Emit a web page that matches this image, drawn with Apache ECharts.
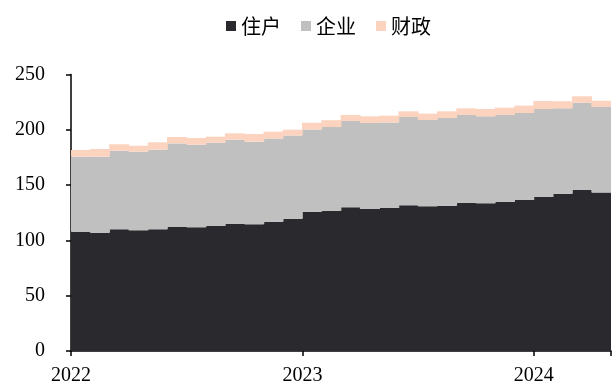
<!DOCTYPE html>
<html>
<head>
<meta charset="utf-8">
<script src="https://cdn.jsdelivr.net/npm/echarts@6/dist/echarts.min.js"></script>
<style>
  html, body { margin: 0; padding: 0; background: #fff; }
  #chart { width: 616px; height: 388px; }
</style>
</head>
<body>
<div id="chart"></div>
<script>
// 2022-01 .. 2024-04, monthly
const months = [
  '2022-01','2022-02','2022-03','2022-04','2022-05','2022-06','2022-07','2022-08','2022-09','2022-10','2022-11','2022-12',
  '2023-01','2023-02','2023-03','2023-04','2023-05','2023-06','2023-07','2023-08','2023-09','2023-10','2023-11','2023-12',
  '2024-01','2024-02','2024-03','2024-04'
];
const household = [
  107.9, 107.0, 110.0, 109.1, 110.0, 112.1, 111.8, 113.0, 114.8, 114.5, 116.9, 119.6,
  126.0, 126.7, 129.9, 128.4, 129.3, 131.7, 130.8, 131.4, 134.1, 133.5, 134.7, 136.5,
  139.2, 142.2, 145.6, 143.2
];
const enterprise = [
  67.8, 68.7, 71.1, 71.1, 72.0, 75.6, 74.7, 75.4, 76.3, 74.8, 75.2, 75.2,
  74.3, 75.8, 78.1, 77.7, 77.4, 79.9, 78.1, 79.3, 79.3, 78.7, 78.7, 78.7,
  79.6, 77.2, 78.9, 77.4
];
const fiscal = [
  6.0, 6.9, 5.8, 5.4, 6.7, 5.8, 6.1, 5.4, 5.7, 6.9, 6.2, 5.3,
  6.1, 6.2, 5.4, 6.1, 6.1, 5.1, 5.7, 6.0, 6.0, 6.6, 6.6, 6.6,
  7.2, 6.4, 5.8, 5.7
];
const seriesNames = ['住户', '企业', '财政'];
const colors = ['#2a292e', '#c0c0c0', '#fbd3bf'];
const startYear = 2022;

const chart = echarts.init(document.getElementById('chart'));
const serif = '"Liberation Serif", "DejaVu Serif", serif';

function barSeries(i, data) {
  return {
    name: seriesNames[i],
    type: 'bar',
    stack: 'total',
    xAxisIndex: 0,
    data: data,
    // slightly wider than the band so neighbouring bars overlap and no seams show
    barWidth: '104%',
    itemStyle: { color: colors[i] }
  };
}

chart.setOption({
  animation: false,
  color: colors,
  legend: {
    top: 11,
    left: 221,
    icon: 'rect',
    itemWidth: 10,
    itemHeight: 10,
    itemGap: 20,
    textStyle: {
      fontFamily: '"Noto Sans CJK SC", sans-serif',
      fontSize: 20,
      color: '#000'
    },
    data: seriesNames
  },
  grid: { left: 71, right: 5, top: 74.5, bottom: 37 },
  xAxis: [
    {
      type: 'category',
      data: months,
      show: false
    },
    {
      type: 'value',
      min: 0,
      max: months.length,
      interval: 12,
      position: 'bottom',
      axisLine: { show: true, lineStyle: { color: '#000', width: 1.5 } },
      axisTick: { show: true, length: 5, lineStyle: { color: '#000', width: 1.5 } },
      splitLine: { show: false },
      axisLabel: {
        margin: 15,
        fontFamily: serif,
        fontSize: 20,
        color: '#000',
        formatter: function (v) { return v % 12 === 0 && v < months.length ? String(startYear + v / 12) : ''; }
      }
    }
  ],
  yAxis: {
    type: 'value',
    min: 0,
    max: 250,
    interval: 50,
    axisLine: { show: true, lineStyle: { color: '#000', width: 1.5 } },
    axisTick: { show: true, length: 5, lineStyle: { color: '#000', width: 1.5 } },
    splitLine: { show: false },
    axisLabel: {
      margin: 26,
      fontFamily: serif,
      fontSize: 20,
      color: '#000'
    }
  },
  series: [
    barSeries(0, household),
    barSeries(1, enterprise),
    barSeries(2, fiscal)
  ]
});
</script>
</body>
</html>
